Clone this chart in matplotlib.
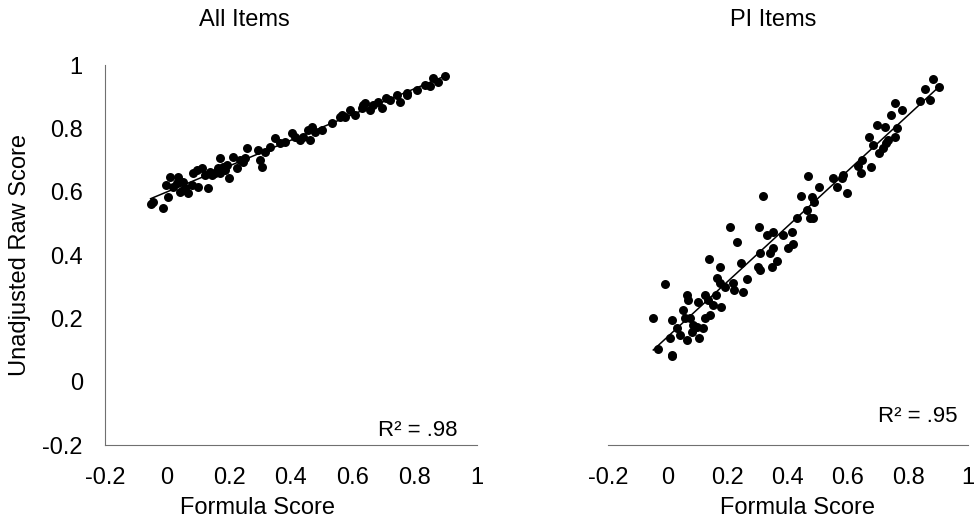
import numpy as np
import matplotlib.pyplot as plt

plt.rcParams['font.family'] = ['Liberation Sans', 'DejaVu Sans']

# All Items: formula score vs unadjusted raw score
all_x = [-0.053, -0.044, -0.014, 0.004, 0.010, -0.003, 0.020, 0.036, 0.042, 0.058,
         0.069, 0.053, 0.085, 0.096, 0.101, 0.112, 0.122, 0.133, 0.139, 0.155,
         0.165, 0.171, 0.182, 0.192, 0.201, 0.214, 0.225, 0.235, 0.257, 0.251,
         0.294, 0.300, 0.308, 0.316, 0.332, 0.348, 0.364, 0.381, 0.402, 0.413,
         0.429, 0.440, 0.456, 0.461, 0.467, 0.477, 0.499, 0.531, 0.558, 0.574,
         0.590, 0.606, 0.628, 0.639, 0.655, 0.666, 0.682, 0.692, 0.708, 0.719,
         0.741, 0.751, 0.773, 0.805, 0.832, 0.848, 0.859, 0.875, 0.897,
         0.031, 0.080, 0.144, 0.171, 0.187, 0.246, 0.053, 0.563, 0.633, 0.773]
all_y = [0.561, 0.568, 0.550, 0.584, 0.645, 0.621, 0.616, 0.645, 0.600, 0.611,
         0.595, 0.632, 0.658, 0.668, 0.616, 0.674, 0.653, 0.611, 0.663, 0.658,
         0.674, 0.705, 0.679, 0.684, 0.642, 0.711, 0.674, 0.700, 0.737, 0.705,
         0.732, 0.700, 0.679, 0.726, 0.742, 0.768, 0.753, 0.758, 0.784, 0.774,
         0.763, 0.774, 0.795, 0.763, 0.805, 0.789, 0.795, 0.816, 0.837, 0.835,
         0.858, 0.842, 0.863, 0.879, 0.858, 0.874, 0.884, 0.863, 0.895, 0.889,
         0.905, 0.884, 0.905, 0.921, 0.937, 0.934, 0.958, 0.947, 0.966,
         0.626, 0.621, 0.653, 0.658, 0.668, 0.695, 0.605, 0.842, 0.874, 0.911]

# PI Items
pi_x = [0.207, 0.304, 0.316, 0.331, 0.351, 0.382, 0.412, 0.431, 0.442, 0.462,
        0.468, 0.473, 0.479, 0.482, 0.487, 0.504, 0.549, 0.564, 0.579, 0.584,
        0.598, 0.634, 0.645, 0.643, 0.676, 0.669, 0.684, 0.698, 0.704, 0.716,
        0.723, 0.727, 0.734, 0.742, 0.757, 0.758, 0.764, 0.780, 0.840, 0.857,
        0.873, 0.884, 0.904,
        -0.010, 0.012, 0.007, 0.012, 0.029, 0.040, 0.051, 0.062, 0.062, 0.068,
        0.057, 0.073, 0.079, 0.084, 0.101, 0.096, 0.104, 0.118, 0.123, 0.123,
        0.134, 0.140, 0.151, 0.160, 0.162, 0.138, 0.173, 0.177, 0.173, 0.190,
        0.218, 0.229, 0.220, 0.245, 0.251, 0.264, 0.301, 0.307, 0.307, 0.340,
        0.346, 0.351, 0.364, 0.401, 0.418,
        -0.049, -0.033, 0.015]
pi_y = [0.489, 0.489, 0.586, 0.463, 0.474, 0.463, 0.474, 0.516, 0.586, 0.542,
        0.649, 0.516, 0.584, 0.516, 0.568, 0.614, 0.642, 0.614, 0.642, 0.653,
        0.597, 0.681, 0.700, 0.660, 0.679, 0.774, 0.747, 0.811, 0.721, 0.737,
        0.805, 0.753, 0.763, 0.842, 0.774, 0.879, 0.800, 0.858, 0.887, 0.924,
        0.889, 0.955, 0.932,
        0.307, 0.084, 0.137, 0.195, 0.168, 0.147, 0.226, 0.132, 0.274, 0.258,
        0.200, 0.200, 0.158, 0.179, 0.253, 0.174, 0.137, 0.168, 0.200, 0.274,
        0.258, 0.211, 0.242, 0.274, 0.326, 0.386, 0.363, 0.235, 0.311, 0.300,
        0.311, 0.442, 0.290, 0.374, 0.284, 0.323, 0.363, 0.353, 0.407, 0.405,
        0.361, 0.421, 0.381, 0.421, 0.435,
        0.200, 0.103, 0.081]

ticks = [-0.2, 0, 0.2, 0.4, 0.6, 0.8, 1]
tick_labels = ['-0.2', '0', '0.2', '0.4', '0.6', '0.8', '1']
r2_labels = ['R² = .98', 'R² = .95']

fig = plt.figure(figsize=(9.77, 5.23), dpi=100)
ax1 = fig.add_axes([0.1075, 0.1491, 0.3807, 0.7266])
ax2 = fig.add_axes([0.6223, 0.1491, 0.3685, 0.7266])

spine_col = '#707070'
for ax, xs, ys in [(ax1, all_x, all_y), (ax2, pi_x, pi_y)]:
    xs = np.array(xs)
    ys = np.array(ys)
    ax.scatter(xs, ys, s=42, color='black', zorder=3, linewidths=0)
    m, b = np.polyfit(xs, ys, 1)
    lx = np.array([xs.min(), xs.max()])
    ax.plot(lx, m * lx + b, color='black', lw=1.1, zorder=2)
    ax.set_xlim(-0.2, 1)
    ax.set_ylim(-0.2, 1)
    ax.set_xticks(ticks)
    ax.set_xticklabels(tick_labels)
    ax.tick_params(length=0, labelsize=17, pad=16)
    ax.spines['top'].set_visible(False)
    ax.spines['right'].set_visible(False)
    ax.spines['bottom'].set_color(spine_col)
    ax.spines['left'].set_color(spine_col)

ax1.set_yticks(ticks)
ax1.set_yticklabels(tick_labels)
ax2.spines['left'].set_visible(False)
ax2.set_yticks([])

fig.text(244 / 977, 1 - 20 / 523, 'All Items', ha='center', va='center', fontsize=17)
fig.text(773 / 977, 1 - 20 / 523, 'PI Items', ha='center', va='center', fontsize=17)
fig.text(257 / 977, 1 - 508 / 523, 'Formula Score', ha='center', va='center', fontsize=17)
fig.text(798 / 977, 1 - 508 / 523, 'Formula Score', ha='center', va='center', fontsize=17)
fig.text(20 / 977, 1 - 255 / 523, 'Unadjusted Raw Score', ha='center', va='center',
         rotation=90, fontsize=17)
fig.text(418 / 977, 1 - 431 / 523, r2_labels[0], ha='center', va='center', fontsize=16)
fig.text(918 / 977, 1 - 417 / 523, r2_labels[1], ha='center', va='center', fontsize=16)

fig.savefig('out.png', dpi=100)
